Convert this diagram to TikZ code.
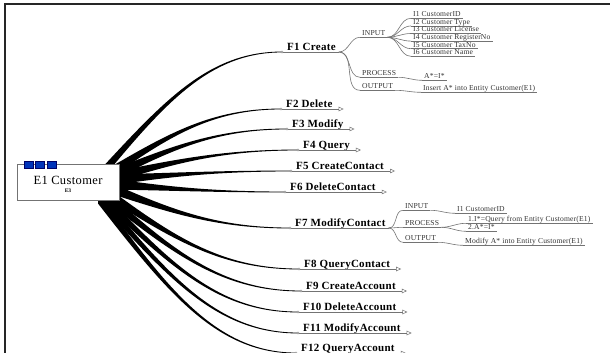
\documentclass[tikz,border=0pt]{standalone}
\usepackage{fontspec}
\setmainfont{Liberation Serif}
\usetikzlibrary{calc,arrows.meta}
\tikzset{
  flabel/.style={font=\fontsize{11}{12}\selectfont\bfseries\addfontfeatures{LetterSpace=2.5}, anchor=base west, inner sep=0pt, text=black},
  slabel/.style={font=\fontsize{7.6}{9}\selectfont\addfontfeatures{LetterSpace=2}, anchor=base west, inner sep=0pt, text=black!80},
  uline/.style={draw=black!55, line width=0.6pt},
  subcurve/.style={draw=black!55, line width=0.6pt},
  wedge/.style={fill=black},
  collapsed/.style={-{Triangle[open,length=5pt,width=4.5pt,line width=0.5pt]}},
  rootbox/.style={draw=black!55, line width=0.6pt, fill=white, minimum width=102pt, minimum height=36pt, inner sep=0pt},
  bluesq/.style={draw=blue!40!black, line width=0.5pt, fill=blue!65!black!80!cyan, minimum width=9pt, minimum height=7pt, inner sep=0pt},
  junction/.style={draw=black!50, line width=0.4pt, fill=white},
}
\newcommand{\mmwedge}[3]{%
  \fill[wedge] let \p1=(#1), \p2=(#2), \n1={\x2-\x1}, \n2={\y2-\y1} in
    (\x1,\y1+#3) .. controls (\x1+0.35*\n1,\y1+0.6*\n2+0.3*#3) and (\x2-0.4*\n1,\y2+0.5pt) .. (\x2,\y2+0.4pt)
    -- (\x2,\y2-0.4pt) .. controls (\x2-0.4*\n1,\y2-0.5pt) and (\x1+0.35*\n1,\y1+0.6*\n2-0.3*#3) .. (\x1,\y1-#3) -- cycle;}
\newcommand{\mmsub}[4]{%
  \node[slabel] (#1) at (#2,#3) {#4};
  \coordinate (#1s) at ($(#1.base west)+(-2,1.6)$);
  \coordinate (#1e) at ($(#1.base east)+(2,1.6)$);
  \draw[uline] (#1s) -- (#1e);}
\begin{document}
\begin{tikzpicture}[x=1pt,y=-1pt]
\useasboundingbox (0,0) rectangle (610,353);
\fill[white] (0,0) rectangle (610,353);
% frame
\draw[line width=2pt, black!85] (4.5,353) -- (4.5,4.5) -- (610,4.5);

% main topics
\foreach \k/\x/\y/\sx/\sy/\t in {
  1/287/47/105/170/F1 Create,
  2/286/104/108/174/F2 Delete,
  3/292/124/110/176/F3 Modify,
  4/303/145/110/178/F4 Query,
  5/296/166/110/180/F5 CreateContact,
  6/290/187/110/184/F6 DeleteContact,
  7/295/223/110/188/F7 ModifyContact,
  8/304/264/106/192/F8 QueryContact,
  9/306/286/104/194/F9 CreateAccount,
  10/303/307/102/196/F10 DeleteAccount,
  11/303/328/100/197/F11 ModifyAccount,
  12/301/348/98/198/F12 QueryAccount}{
  \node[flabel] (f\k) at (\x,\y+3.5) {\t};
  \coordinate (e\k) at ($(f\k.base west)+(-5,1.5)$);
  \coordinate (u\k) at ($(f\k.base east)+(3,1.5)$);
  \coordinate (s\k) at (\sx,\sy);
  \mmwedge{s\k}{e\k}{5.5pt}
}
\foreach \k in {2,3,4,5,6,8,9,10,11,12}{
  \draw[uline,collapsed] (e\k) -- ($(f\k.base east)+(11,1.5)$);
}
\foreach \k in {1,7}{
  \draw[uline] (e\k) -- (u\k);
}
\foreach \k in {1,...,12}{
  \draw[junction] (e\k) circle (1.1);
}

% root
\node[rootbox] (root) at (68,182) {};
\node[font=\fontsize{12.5}{14}\selectfont\addfontfeatures{LetterSpace=3}, inner sep=0pt] (rootlabel) at (68,180.5) {E1 Customer};
\node[font=\fontsize{5.5}{6}\selectfont\bfseries, inner sep=0pt] (rootsub) at (68,190.5) {E3};
\node[bluesq] (sq1) at (28.5,164.5) {};
\node[bluesq] (sq2) at (40,164.5) {};
\node[bluesq] (sq3) at (51.5,164.5) {};

% F1 subtopics
\mmsub{in1}{362}{35.7}{INPUT}
\mmsub{pr1}{362}{75.7}{PROCESS}
\mmsub{ou1}{362}{88.7}{OUTPUT}
\foreach \c in {in1,pr1,ou1}{\draw[subcurve] (u1) to[out=0,in=180] (\c s);}
\mmsub{i1}{413}{16.7}{I1 CustomerID}
\mmsub{i2}{413}{24.3}{I2 Customer Type}
\mmsub{i3}{413}{31.9}{I3 Customer License}
\mmsub{i4}{413}{39.5}{I4 Customer RegisterNo}
\mmsub{i5}{413}{47.1}{I5 Customer TaxNo}
\mmsub{i6}{413}{54.7}{I6 Customer Name}
\foreach \c in {i1,i2,i3,i4,i5,i6}{\draw[subcurve] (in1e) to[out=0,in=180] (\c s);}
\mmsub{a1}{424}{78.7}{A*=I*}
\draw[subcurve] (pr1e) to[out=0,in=180] (a1s);
\mmsub{o1}{423}{90.7}{Insert A* into Entity Customer(E1)}
\draw[subcurve] (ou1e) to[out=0,in=180] (o1s);

% F7 subtopics
\mmsub{in7}{405}{208.7}{INPUT}
\mmsub{pr7}{405}{225.7}{PROCESS}
\mmsub{ou7}{405}{240.7}{OUTPUT}
\foreach \c in {in7,pr7,ou7}{\draw[subcurve] (u7) to[out=0,in=180] (\c s);}
\mmsub{c71}{457}{211.7}{I1 CustomerID}
\draw[subcurve] (in7e) to[out=0,in=180] (c71s);
\mmsub{c72}{468}{221.7}{1.I*=Query from Entity Customer(E1)}
\mmsub{c73}{468}{229.7}{2.A*=I*}
\draw[subcurve] (pr7e) to[out=0,in=180] (c72s);
\draw[subcurve] (pr7e) to[out=0,in=180] (c73s);
\mmsub{c74}{465}{243.7}{Modify A* into Entity Customer(E1)}
\draw[subcurve] (ou7e) to[out=0,in=180] (c74s);
\end{tikzpicture}
\end{document}
